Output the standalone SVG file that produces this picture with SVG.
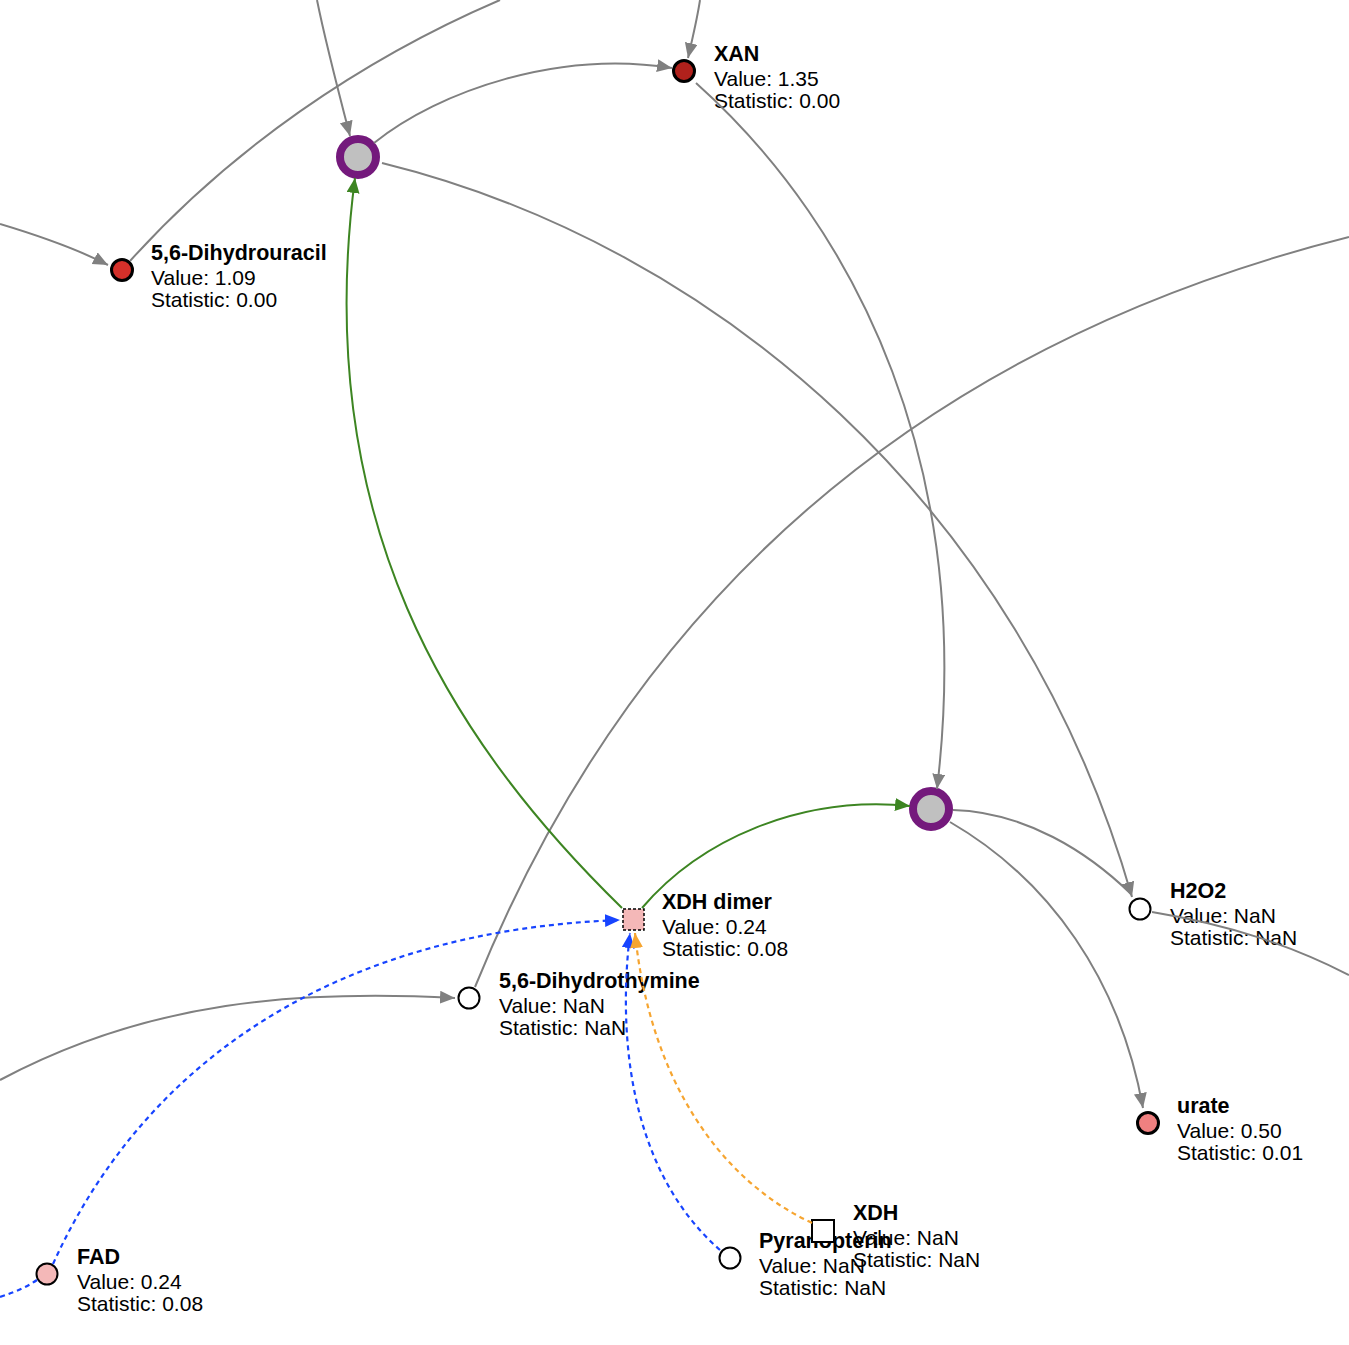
<svg xmlns="http://www.w3.org/2000/svg" width="1349" height="1345" viewBox="0 0 1349 1345">
<style>
text{font-family:"Liberation Sans",Arial,Helvetica,sans-serif;fill:#000;font-size:21px}
.t{font-weight:bold;font-size:21.5px}
.met{stroke:#000;stroke-width:2}
.hi{stroke-width:3}
.rx{fill:#c0c0c0;stroke:#74197c;stroke-width:8}
.e{fill:none;stroke:#808080;stroke-width:2}
.g{fill:none;stroke:#3d8522;stroke-width:2}
.b{fill:none;stroke:#1744ff;stroke-width:2.2;stroke-dasharray:5,4}
.o{fill:none;stroke:#f6a531;stroke-width:2.2;stroke-dasharray:5,4}
</style>
<defs>
<marker id="ag" markerUnits="userSpaceOnUse" markerWidth="16" markerHeight="14" refX="15" refY="6.5" orient="auto"><path d="M0,0 L15,6.5 L0,13 z" fill="#808080"/></marker>
<marker id="agr" markerUnits="userSpaceOnUse" markerWidth="16" markerHeight="14" refX="15" refY="6.5" orient="auto"><path d="M0,0 L15,6.5 L0,13 z" fill="#3d8522"/></marker>
<marker id="ab" markerUnits="userSpaceOnUse" markerWidth="16" markerHeight="14" refX="15" refY="6.5" orient="auto"><path d="M0,0 L15,6.5 L0,13 z" fill="#1744ff"/></marker>
<marker id="ao" markerUnits="userSpaceOnUse" markerWidth="16" markerHeight="14" refX="15" refY="6.5" orient="auto"><path d="M0,0 L15,6.5 L0,13 z" fill="#f6a531"/></marker>
</defs>
<rect width="1349" height="1345" fill="#fff"/>
<g id="nodes">
<g id="r1"><circle class="rx" cx="358" cy="157" r="18"/></g>
<g id="r2"><circle class="rx" cx="931" cy="809" r="18"/></g>
<g id="xan"><circle class="met hi" cx="684" cy="71" r="10.5" fill="#b0211c"/><text class="t" x="714" y="61">XAN</text><text x="714" y="86">Value: 1.35</text><text x="714" y="108">Statistic: 0.00</text></g>
<g id="dhu"><circle class="met hi" cx="122" cy="270" r="10.5" fill="#d4302a"/><text class="t" x="151" y="260">5,6-Dihydrouracil</text><text x="151" y="285">Value: 1.09</text><text x="151" y="307">Statistic: 0.00</text></g>
<g id="xdhd"><rect x="623" y="909" width="21" height="21" fill="#f4b8b8" stroke="#000" stroke-width="1.5" stroke-dasharray="3,2"/><text class="t" x="662" y="909">XDH dimer</text><text x="662" y="934">Value: 0.24</text><text x="662" y="956">Statistic: 0.08</text></g>
<g id="h2o2"><circle class="met" cx="1140" cy="909" r="10.5" fill="#fff"/><text class="t" x="1170" y="898">H2O2</text><text x="1170" y="923">Value: NaN</text><text x="1170" y="945">Statistic: NaN</text></g>
<g id="urate"><circle class="met hi" cx="1148" cy="1123" r="10.5" fill="#f08080"/><text class="t" x="1177" y="1113">urate</text><text x="1177" y="1138">Value: 0.50</text><text x="1177" y="1160">Statistic: 0.01</text></g>
<g id="dht"><circle class="met" cx="469" cy="998" r="10.5" fill="#fff"/><text class="t" x="499" y="988">5,6-Dihydrothymine</text><text x="499" y="1013">Value: NaN</text><text x="499" y="1035">Statistic: NaN</text></g>
<g id="pyr"><circle class="met" cx="730" cy="1258" r="10.5" fill="#fff"/><text class="t" x="759" y="1248">Pyranopterin</text><text x="759" y="1273">Value: NaN</text><text x="759" y="1295">Statistic: NaN</text></g>
<g id="xdh"><rect x="812" y="1220" width="22" height="22" fill="#fff" stroke="#000" stroke-width="2"/><text class="t" x="853" y="1220">XDH</text><text x="853" y="1245">Value: NaN</text><text x="853" y="1267">Statistic: NaN</text></g>
<g id="fad"><circle class="met" cx="47" cy="1274" r="10.5" fill="#f4b8b8"/><text class="t" x="77" y="1264">FAD</text><text x="77" y="1289">Value: 0.24</text><text x="77" y="1311">Statistic: 0.08</text></g>
</g>
<g id="connectors">
<path class="e" d="M317,0 C325,40 338,90 350,136" marker-end="url(#ag)"/>
<path class="e" d="M130,261 C230,150 360,60 500,0"/>
<path class="e" d="M0,224 C40,236 75,248 108,265" marker-end="url(#ag)"/>
<path class="e" d="M700,0 C697,20 692,40 688,58" marker-end="url(#ag)"/>
<path class="e" d="M374,143 C440,90 560,50 672,68" marker-end="url(#ag)"/>
<path class="e" d="M382,163 C715,245 1020,505 1132,897" marker-end="url(#ag)"/>
<path class="e" d="M696,83 C860,230 975,470 937,789" marker-end="url(#ag)"/>
<path class="e" d="M1349,237 C1000,325 660,530 475,987"/>
<path class="e" d="M0,1080 C150,1000 300,990 455,998" marker-end="url(#ag)"/>
<path class="e" d="M953,810 C1025,812 1088,852 1131,894"/>
<path class="e" d="M950,822 C1050,880 1120,980 1143,1108" marker-end="url(#ag)"/>
<path class="e" d="M1152,912 C1230,925 1290,945 1349,975"/>
<path class="g" d="M622,908 C450,740 310,520 355,178" marker-end="url(#agr)"/>
<path class="g" d="M642,908 C700,840 800,795 910,806" marker-end="url(#agr)"/>
<path class="b" d="M53,1264 C150,1050 350,930 620,920" marker-end="url(#ab)"/>
<path class="b" d="M0,1297 C15,1292 25,1288 37,1280"/>
<path class="b" d="M720,1250 C640,1180 615,1060 630,933" marker-end="url(#ab)"/>
<path class="o" d="M812,1223 C720,1180 650,1080 635,933" marker-end="url(#ao)"/>
</g>
</svg>
